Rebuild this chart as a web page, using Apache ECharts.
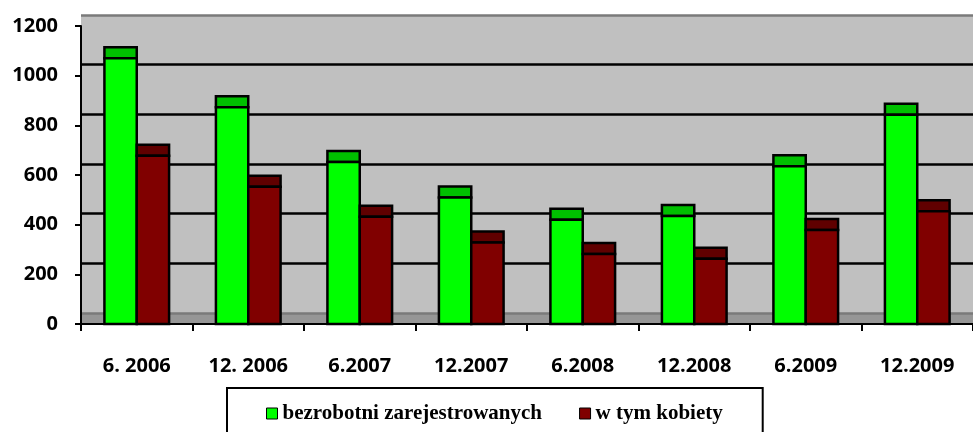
<!DOCTYPE html>
<html>
<head>
<meta charset="utf-8">
<script src="https://cdn.jsdelivr.net/npm/echarts@6/dist/echarts.min.js"></script>
<style>html,body{margin:0;padding:0;background:#fff}#c{width:973px;height:432px}</style>
</head>
<body>
<div id="c"></div>
<script>
const categories = ['6. 2006', '12. 2006', '6.2007', '12.2007', '6.2008', '12.2008', '6.2009', '12.2009'];
const registered = [1070, 873, 652, 509, 420, 435, 635, 843];
const women = [678, 553, 432, 328, 282, 263, 379, 454];
const yTicks = [0, 200, 400, 600, 800, 1000, 1200];

const chart = echarts.init(document.getElementById('c'), null, {renderer: 'canvas'});

function makeRender(front, cap, side) {
  return function (params, api) {
    const x = api.value(0), v = api.value(1);
    const top = api.coord([x, v]);
    const bot = api.coord([x, 0]);
    const bw = api.size([1, 0])[0];
    const w = bw * 0.29;
    const left = side < 0 ? top[0] - w : top[0];
    const depth = 11;
    return {
      type: 'group',
      children: [
        {type: 'rect', shape: {x: left, y: top[1] - depth, width: w, height: depth},
         style: {fill: cap, stroke: '#000', lineWidth: 2.5}},
        {type: 'rect', shape: {x: left, y: top[1], width: w, height: bot[1] - top[1]},
         style: {fill: front, stroke: '#000', lineWidth: 2.5}}
      ]
    };
  };
}

const labelFont = {fontFamily: 'Open Sans', fontWeight: 'bold', fontSize: 20, color: '#000'};

chart.setOption({
  animation: false,
  backgroundColor: '#fff',
  grid: [
    {left: 81, top: 26, right: -17, bottom: 108, show: true, backgroundColor: '#969696', borderWidth: 0},
    {left: 81, top: 15, right: -17, bottom: 119, show: true, backgroundColor: '#c0c0c0', borderWidth: 0}
  ],
  xAxis: [
    {type: 'category', gridIndex: 0, data: categories, boundaryGap: true,
     axisLine: {show: true, lineStyle: {color: '#000', width: 2}},
     axisTick: {show: true, length: 7, lineStyle: {color: '#000', width: 2}},
     axisLabel: Object.assign({margin: 32, interval: 0}, labelFont),
     splitLine: {show: false}, z: 5},
    {type: 'category', gridIndex: 1, data: categories, show: false}
  ],
  yAxis: [
    {type: 'value', gridIndex: 0, min: yTicks[0], max: yTicks[yTicks.length - 1], interval: 200,
     axisLine: {show: true, lineStyle: {color: '#000', width: 2}},
     axisTick: {show: true, length: 6, lineStyle: {color: '#000', width: 2}},
     axisLabel: Object.assign({margin: 23, formatter: v => String(v)}, labelFont),
     splitLine: {show: false}, z: 5},
    {type: 'value', gridIndex: 1, min: yTicks[0], max: yTicks[yTicks.length - 1], interval: 200,
     axisLine: {show: false}, axisTick: {show: false}, axisLabel: {show: false},
     splitLine: {show: true, lineStyle: {color: ['#7a7a7a', '#000', '#000', '#000', '#000', '#000', '#7a7a7a'], width: 2.5}}}
  ],
  legend: {
    left: 227, top: 388,
    padding: [15, 40, 15, 39],
    itemGap: 37, itemWidth: 11, itemHeight: 11,
    borderColor: '#000', borderWidth: 2, backgroundColor: '#fff',
    textStyle: {fontFamily: 'Liberation Serif', fontWeight: 'bold', fontSize: 21, color: '#000'},
    itemStyle: {borderColor: '#000', borderWidth: 1},
    data: [{name: 'bezrobotni zarejestrowanych', icon: 'rect'}, {name: 'w tym kobiety', icon: 'rect'}]
  },
  series: [
    {name: 'bezrobotni zarejestrowanych', type: 'custom', xAxisIndex: 0, yAxisIndex: 0,
     itemStyle: {color: '#00ff00'}, z: 10,
     renderItem: makeRender('#00ff00', '#00c000', -1),
     encode: {x: 0, y: 1},
     data: registered.map((v, i) => [i, v])},
    {name: 'w tym kobiety', type: 'custom', xAxisIndex: 0, yAxisIndex: 0,
     itemStyle: {color: '#800000'}, z: 10,
     renderItem: makeRender('#800000', '#600000', 1),
     encode: {x: 0, y: 1},
     data: women.map((v, i) => [i, v])}
  ]
});
</script>
</body>
</html>
